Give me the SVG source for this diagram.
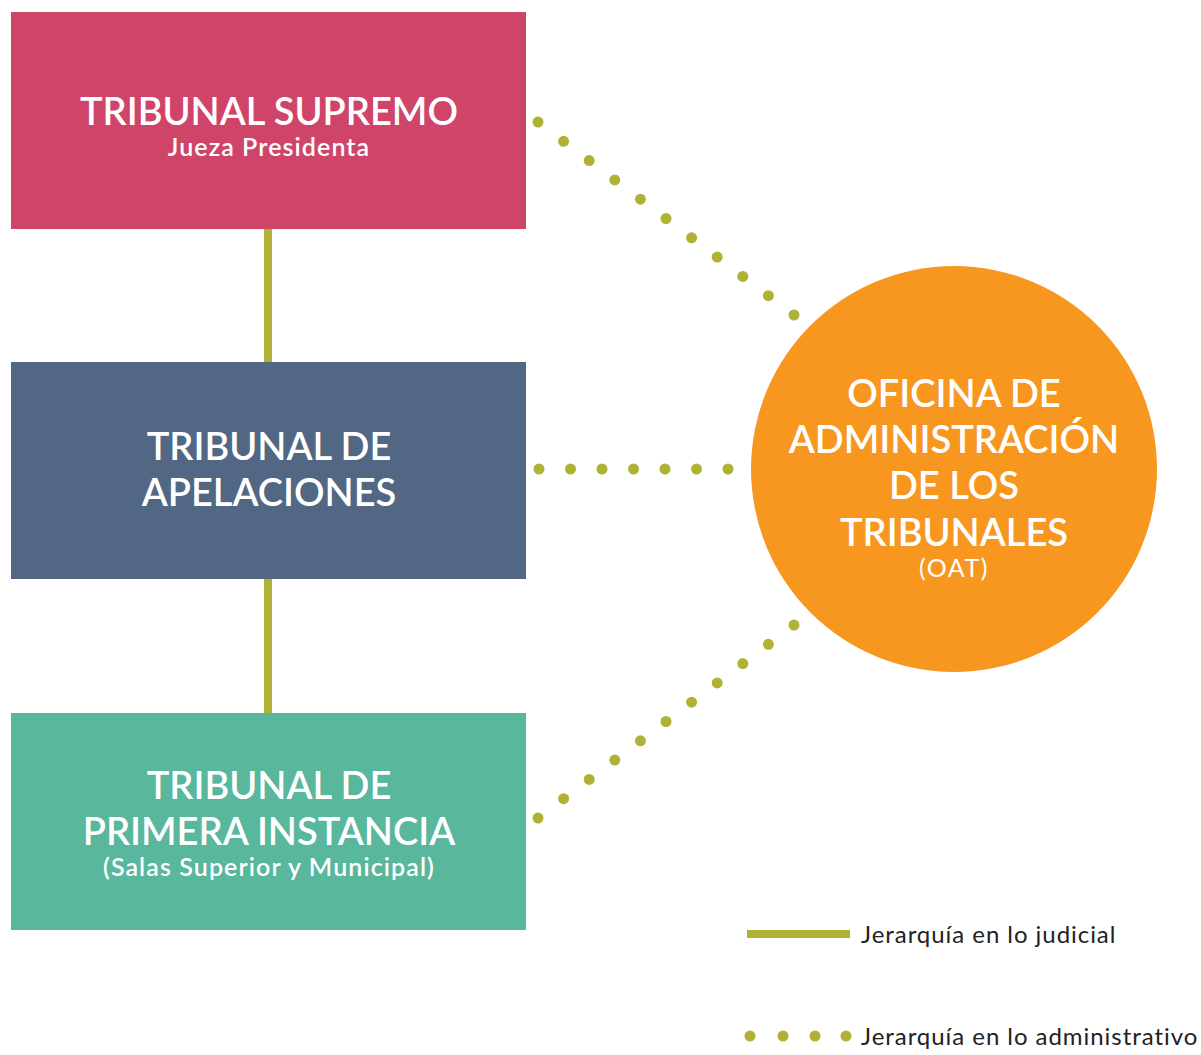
<svg xmlns="http://www.w3.org/2000/svg" width="1201" height="1055" viewBox="0 0 1201 1055">
<style>
.t{font-family:Lato,"Open Sans","Liberation Sans",sans-serif;fill:#fff;text-anchor:middle}
.big{font-size:38px;font-weight:600}
.sub{font-size:25px;font-weight:600;letter-spacing:1.1px}
.oat{font-size:25px;font-weight:400;letter-spacing:1.5px}
.leg{font-family:Lato,"Open Sans","Liberation Sans",sans-serif;font-size:24px;font-weight:400;letter-spacing:0.95px;fill:#222}
.dot{fill:#b0b236}
</style>
<rect width="1201" height="1055" fill="#fff"/>
<g id="connectors">
<rect x="264" y="228" width="8" height="136" fill="#b0b236"/>
<rect x="264" y="578" width="8" height="137" fill="#b0b236"/>
<g class="dot">
<circle cx="538" cy="122" r="5.5"/><circle cx="563.6" cy="141.3" r="5.5"/><circle cx="589.2" cy="160.6" r="5.5"/><circle cx="614.8" cy="179.9" r="5.5"/><circle cx="640.4" cy="199.2" r="5.5"/><circle cx="666" cy="218.5" r="5.5"/><circle cx="691.6" cy="237.8" r="5.5"/><circle cx="717.2" cy="257.1" r="5.5"/><circle cx="742.8" cy="276.4" r="5.5"/><circle cx="768.4" cy="295.7" r="5.5"/><circle cx="794" cy="315" r="5.5"/>
<circle cx="539" cy="469" r="5.5"/><circle cx="570.5" cy="469" r="5.5"/><circle cx="602" cy="469" r="5.5"/><circle cx="633.5" cy="469" r="5.5"/><circle cx="665" cy="469" r="5.5"/><circle cx="696.5" cy="469" r="5.5"/><circle cx="728" cy="469" r="5.5"/>
<circle cx="538" cy="818" r="5.5"/><circle cx="563.6" cy="798.7" r="5.5"/><circle cx="589.2" cy="779.4" r="5.5"/><circle cx="614.8" cy="760.1" r="5.5"/><circle cx="640.4" cy="740.8" r="5.5"/><circle cx="666" cy="721.5" r="5.5"/><circle cx="691.6" cy="702.2" r="5.5"/><circle cx="717.2" cy="682.9" r="5.5"/><circle cx="742.8" cy="663.6" r="5.5"/><circle cx="768.4" cy="644.3" r="5.5"/><circle cx="794" cy="625" r="5.5"/>
</g>
</g>
<g id="supremo">
<rect x="11" y="12" width="515" height="217" fill="#cf456a"/>
<text class="t big" x="269" y="125">TRIBUNAL SUPREMO</text>
<text class="t sub" x="269" y="156">Jueza Presidenta</text>
</g>
<g id="apelaciones">
<rect x="11" y="362" width="515" height="217" fill="#516784"/>
<text class="t big" x="269" y="460">TRIBUNAL DE</text>
<text class="t big" x="269" y="506">APELACIONES</text>
</g>
<g id="primera">
<rect x="11" y="713" width="515" height="217" fill="#58b79c"/>
<text class="t big" x="269" y="799">TRIBUNAL DE</text>
<text class="t big" x="269" y="845">PRIMERA INSTANCIA</text>
<text class="t sub" x="269" y="876">(Salas Superior y Municipal)</text>
</g>
<g id="oat">
<circle cx="954" cy="469" r="203" fill="#f7971f"/>
<text class="t big" x="954" y="407">OFICINA DE</text>
<text class="t big" x="954" y="453">ADMINISTRACIÓN</text>
<text class="t big" x="954" y="499">DE LOS</text>
<text class="t big" x="954" y="546">TRIBUNALES</text>
<text class="t oat" x="954" y="577">(OAT)</text>
</g>
<g id="legend">
<rect x="747" y="930" width="103" height="8" fill="#b0b236"/>
<text class="leg" x="861" y="943">Jerarquía en lo judicial</text>
<g class="dot"><circle cx="750" cy="1036" r="5.5"/><circle cx="783" cy="1036" r="5.5"/><circle cx="815" cy="1036" r="5.5"/><circle cx="846" cy="1036" r="5.5"/></g>
<text class="leg" x="861" y="1045">Jerarquía en lo administrativo</text>
</g>
</svg>
